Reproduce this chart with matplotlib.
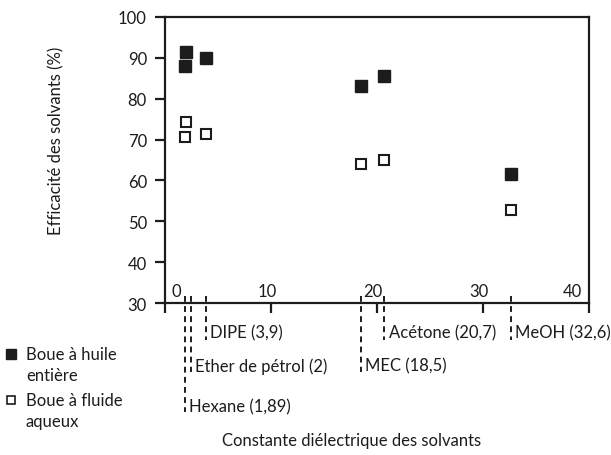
import matplotlib
matplotlib.use("Agg")
import matplotlib.pyplot as plt
from matplotlib.lines import Line2D
import matplotlib.transforms as mtransforms

plt.rcParams['font.family'] = ['Lato', 'DejaVu Sans']

# données
solvants = ['Hexane (1,89)', 'Ether de pétrol (2)', 'DIPE (3,9)',
            'MEC (18,5)', 'Acétone (20,7)', 'MeOH (32,6)']
constante = [1.89, 2.0, 3.9, 18.5, 20.7, 32.6]
huile_entiere = [88.0, 91.4, 89.9, 83.1, 85.5, 61.5]
fluide_aqueux = [70.6, 74.3, 71.3, 64.0, 65.0, 52.7]

x_ticks = [0, 10, 20, 30, 40]
y_ticks = [30, 40, 50, 60, 70, 80, 90, 100]

# niveau de chaque étiquette sous l'axe (0 = haut) et petit décalage des repères
niveau = [2, 1, 0, 1, 0, 0]
decalage_px = [0, 5, 0, 0, 0, 0]

ink = '#1c1c1c'
fs = 12

fig = plt.figure(figsize=(6.11, 4.56), dpi=100)
ax = fig.add_axes([0.270, 0.333, 0.694, 0.628])

ax.plot(constante, huile_entiere, 's', color=ink, ms=8, mec=ink, ls='none')
ax.plot(constante, fluide_aqueux, 's', color='white', ms=7.2, mec=ink, mew=1.5, ls='none')

ax.set_xlim(0, 40)
ax.set_ylim(30, 100)
for s in ax.spines.values():
    s.set_linewidth(1.6)
    s.set_color(ink)

ax.set_yticks(y_ticks)
ax.set_xticks(x_ticks)
ax.set_xticklabels([])
ax.tick_params(axis='y', direction='out', length=7, width=1.6, color=ink,
               labelsize=fs, labelcolor=ink, pad=6)
ax.tick_params(axis='x', direction='out', length=7, width=1.6, color=ink)

# étiquettes de l'axe x placées au-dessus de l'axe, dans le cadre
for v in x_ticks:
    ha = 'left' if v == 0 else ('right' if v == 40 else 'center')
    dx = 5 if v == 0 else (-5 if v == 40 else -3)
    ax.annotate(str(v), xy=(v, 0), xycoords=('data', 'axes fraction'),
                xytext=(dx, 3), textcoords='offset points',
                ha=ha, va='bottom', fontsize=fs, color=ink)

ax.set_ylabel('Efficacité des solvants (%)', fontsize=fs, color=ink)
ax.yaxis.set_label_coords(-0.238, 0.57)

# repères pointillés et noms des solvants sous l'axe
y_text = [-0.101, -0.217, -0.360]
y_end = [-0.128, -0.240, -0.380]
for nom, c, n, d in zip(solvants, constante, niveau, decalage_px):
    tr = mtransforms.blended_transform_factory(ax.transData, ax.transAxes)
    tr = tr + mtransforms.ScaledTranslation(d / 100, 0, fig.dpi_scale_trans)
    ax.add_line(Line2D([c, c], [0.024, y_end[n]], transform=tr, color=ink,
                       lw=1.4, ls=(0, (3, 2.2)), clip_on=False))
    ax.annotate(nom, xy=(c, y_text[n]), xycoords=tr, xytext=(3, 0),
                textcoords='offset points', fontsize=fs, color=ink,
                ha='left', va='center', annotation_clip=False)

fig.text(352 / 611, 1 - 441 / 456, 'Constante diélectrique des solvants',
         ha='center', va='center', fontsize=fs, color=ink)

# légende à gauche
fig.add_artist(Line2D([11 / 611], [1 - 355 / 456], marker='s', ms=7.5, color=ink,
                      mec=ink, transform=fig.transFigure))
fig.add_artist(Line2D([11 / 611], [1 - 401 / 456], marker='s', ms=6.2, color='white',
                      mec=ink, mew=1.2, transform=fig.transFigure))
fig.text(26 / 611, 1 - 355 / 456, 'Boue à huile', va='center', fontsize=fs, color=ink)
fig.text(26 / 611, 1 - 376 / 456, 'entière', va='center', fontsize=fs, color=ink)
fig.text(26 / 611, 1 - 401 / 456, 'Boue à fluide', va='center', fontsize=fs, color=ink)
fig.text(26 / 611, 1 - 422 / 456, 'aqueux', va='center', fontsize=fs, color=ink)

fig.savefig('out.png', dpi=100)
